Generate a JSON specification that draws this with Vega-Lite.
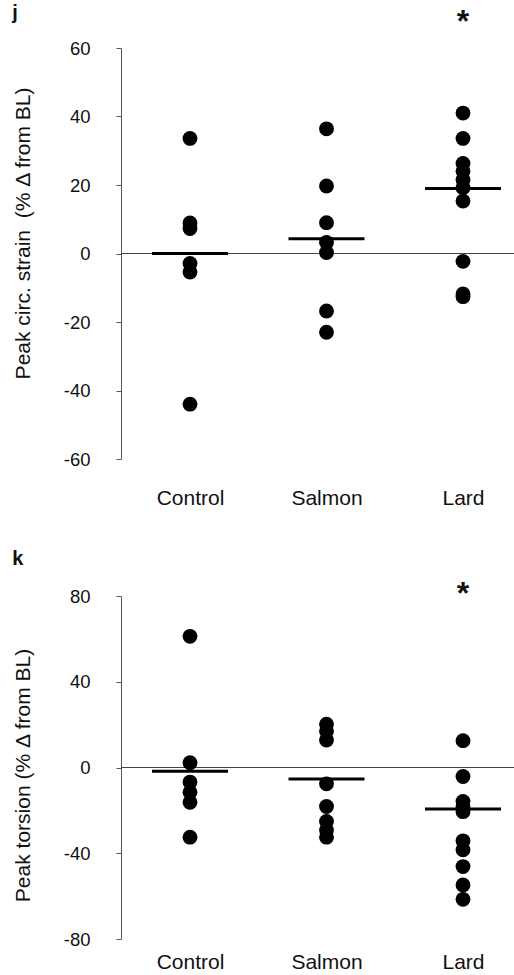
{
  "$schema": "https://vega.github.io/schema/vega-lite/v6.json",
  "background": "white",
  "padding": {"left": 12, "top": 3, "right": 0, "bottom": 0},
  "autosize": {"type": "pad"},
  "spacing": 40,
  "config": {
    "font": "Liberation Sans",
    "view": {"stroke": null},
    "axis": {"grid": false, "labelColor": "#111", "titleColor": "#111", "titleFontWeight": "normal", "domainColor": "#555", "tickColor": "#555"},
    "title": {"anchor": "start", "frame": "bounds", "fontSize": 20, "fontWeight": "bold", "color": "#111"}
  },
  "datasets": {
    "strain": [
      {"group": "Control", "kind": "point", "value": 33.6},
      {"group": "Control", "kind": "point", "value": 8.9},
      {"group": "Control", "kind": "point", "value": 7.3},
      {"group": "Control", "kind": "point", "value": -2.9},
      {"group": "Control", "kind": "point", "value": -5.4},
      {"group": "Control", "kind": "point", "value": -44.0},
      {"group": "Salmon", "kind": "point", "value": 36.4},
      {"group": "Salmon", "kind": "point", "value": 19.7},
      {"group": "Salmon", "kind": "point", "value": 9.0},
      {"group": "Salmon", "kind": "point", "value": 3.2},
      {"group": "Salmon", "kind": "point", "value": 0.3},
      {"group": "Salmon", "kind": "point", "value": -16.8},
      {"group": "Salmon", "kind": "point", "value": -23.0},
      {"group": "Lard", "kind": "point", "value": 41.0},
      {"group": "Lard", "kind": "point", "value": 33.6},
      {"group": "Lard", "kind": "point", "value": 26.3},
      {"group": "Lard", "kind": "point", "value": 24.0},
      {"group": "Lard", "kind": "point", "value": 21.5},
      {"group": "Lard", "kind": "point", "value": 19.2},
      {"group": "Lard", "kind": "point", "value": 15.3},
      {"group": "Lard", "kind": "point", "value": -2.3},
      {"group": "Lard", "kind": "point", "value": -11.8},
      {"group": "Lard", "kind": "point", "value": -12.6},
      {"group": "Control", "kind": "mean", "value": 0.0},
      {"group": "Salmon", "kind": "mean", "value": 4.3},
      {"group": "Lard", "kind": "mean", "value": 19.0},
      {"group": "Lard", "kind": "sig", "value": 64.6, "label": "*"}
    ],
    "torsion": [
      {"group": "Control", "kind": "point", "value": 61.2},
      {"group": "Control", "kind": "point", "value": 2.2},
      {"group": "Control", "kind": "point", "value": -6.8},
      {"group": "Control", "kind": "point", "value": -11.5},
      {"group": "Control", "kind": "point", "value": -16.2},
      {"group": "Control", "kind": "point", "value": -32.5},
      {"group": "Salmon", "kind": "point", "value": 20.2},
      {"group": "Salmon", "kind": "point", "value": 16.9},
      {"group": "Salmon", "kind": "point", "value": 12.8},
      {"group": "Salmon", "kind": "point", "value": -7.6},
      {"group": "Salmon", "kind": "point", "value": -18.2},
      {"group": "Salmon", "kind": "point", "value": -25.2},
      {"group": "Salmon", "kind": "point", "value": -29.1},
      {"group": "Salmon", "kind": "point", "value": -32.5},
      {"group": "Lard", "kind": "point", "value": 12.5},
      {"group": "Lard", "kind": "point", "value": -4.2},
      {"group": "Lard", "kind": "point", "value": -15.8},
      {"group": "Lard", "kind": "point", "value": -18.3},
      {"group": "Lard", "kind": "point", "value": -20.6},
      {"group": "Lard", "kind": "point", "value": -34.2},
      {"group": "Lard", "kind": "point", "value": -38.4},
      {"group": "Lard", "kind": "point", "value": -46.2},
      {"group": "Lard", "kind": "point", "value": -54.8},
      {"group": "Lard", "kind": "point", "value": -61.5},
      {"group": "Control", "kind": "mean", "value": -1.8},
      {"group": "Salmon", "kind": "mean", "value": -5.4},
      {"group": "Lard", "kind": "mean", "value": -19.4},
      {"group": "Lard", "kind": "sig", "value": 76.5, "label": "*"}
    ]
  },
  "vconcat": [
    {
      "title": {"text": "j", "offset": -17},
      "width": 393,
      "height": 411,
      "data": {"name": "strain"},
      "encoding": {
        "x": {"field": "group", "type": "nominal", "sort": ["Control", "Salmon", "Lard"], "scale": {"type": "point", "range": [69, 342], "padding": 0},
          "axis": {"title": null, "domain": false, "ticks": false, "labelAngle": 0, "labelFontSize": 21, "labelPadding": 28}},
        "y": {"field": "value", "type": "quantitative", "scale": {"domain": [-60, 60], "nice": false, "zero": false},
          "axis": {"values": [-60, -40, -20, 0, 20, 40, 60], "labelExpr": "replace(datum.label, '\u2212', '-')", "title": "Peak circ. strain\u00a0\u00a0(% Δ from BL)", "titleFontSize": 21, "titleY": 185, "labelFontSize": 18.5, "tickSize": 5, "labelPadding": 26, "titlePadding": 30}}
      },
      "layer": [
        {"mark": {"type": "rule", "color": "#444", "strokeWidth": 1}, "encoding": {"x": null, "y": {"datum": 0, "type": "quantitative"}}},
        {"transform": [{"filter": "datum.kind === 'point'"}], "mark": {"type": "circle", "size": 220, "color": "black", "opacity": 1}},
        {"transform": [{"filter": "datum.kind === 'mean'"}], "mark": {"type": "tick", "color": "black", "thickness": 3, "size": 76, "opacity": 1}},
        {"transform": [{"filter": "datum.kind === 'sig'"}], "mark": {"type": "text", "fontSize": 32, "fontWeight": "bold", "color": "#111", "baseline": "alphabetic"}, "encoding": {"text": {"field": "label"}}}
      ]
    },
    {
      "title": {"text": "k", "offset": 9},
      "width": 393,
      "height": 343,
      "data": {"name": "torsion"},
      "encoding": {
        "x": {"field": "group", "type": "nominal", "sort": ["Control", "Salmon", "Lard"], "scale": {"type": "point", "range": [69, 342], "padding": 0},
          "axis": {"title": null, "domain": false, "ticks": false, "labelAngle": 0, "labelFontSize": 21, "labelPadding": 12}},
        "y": {"field": "value", "type": "quantitative", "scale": {"domain": [-80, 80], "nice": false, "zero": false},
          "axis": {"values": [-80, -40, 0, 40, 80], "labelExpr": "replace(datum.label, '\u2212', '-')", "title": "Peak torsion (% Δ from BL)", "titleFontSize": 21, "titleY": 179, "labelFontSize": 18.5, "tickSize": 5, "labelPadding": 26, "titlePadding": 30}}
      },
      "layer": [
        {"mark": {"type": "rule", "color": "#444", "strokeWidth": 1}, "encoding": {"x": null, "y": {"datum": 0, "type": "quantitative"}}},
        {"transform": [{"filter": "datum.kind === 'point'"}], "mark": {"type": "circle", "size": 220, "color": "black", "opacity": 1}},
        {"transform": [{"filter": "datum.kind === 'mean'"}], "mark": {"type": "tick", "color": "black", "thickness": 3, "size": 76, "opacity": 1}},
        {"transform": [{"filter": "datum.kind === 'sig'"}], "mark": {"type": "text", "fontSize": 32, "fontWeight": "bold", "color": "#111", "baseline": "alphabetic"}, "encoding": {"text": {"field": "label"}}}
      ]
    }
  ]
}
